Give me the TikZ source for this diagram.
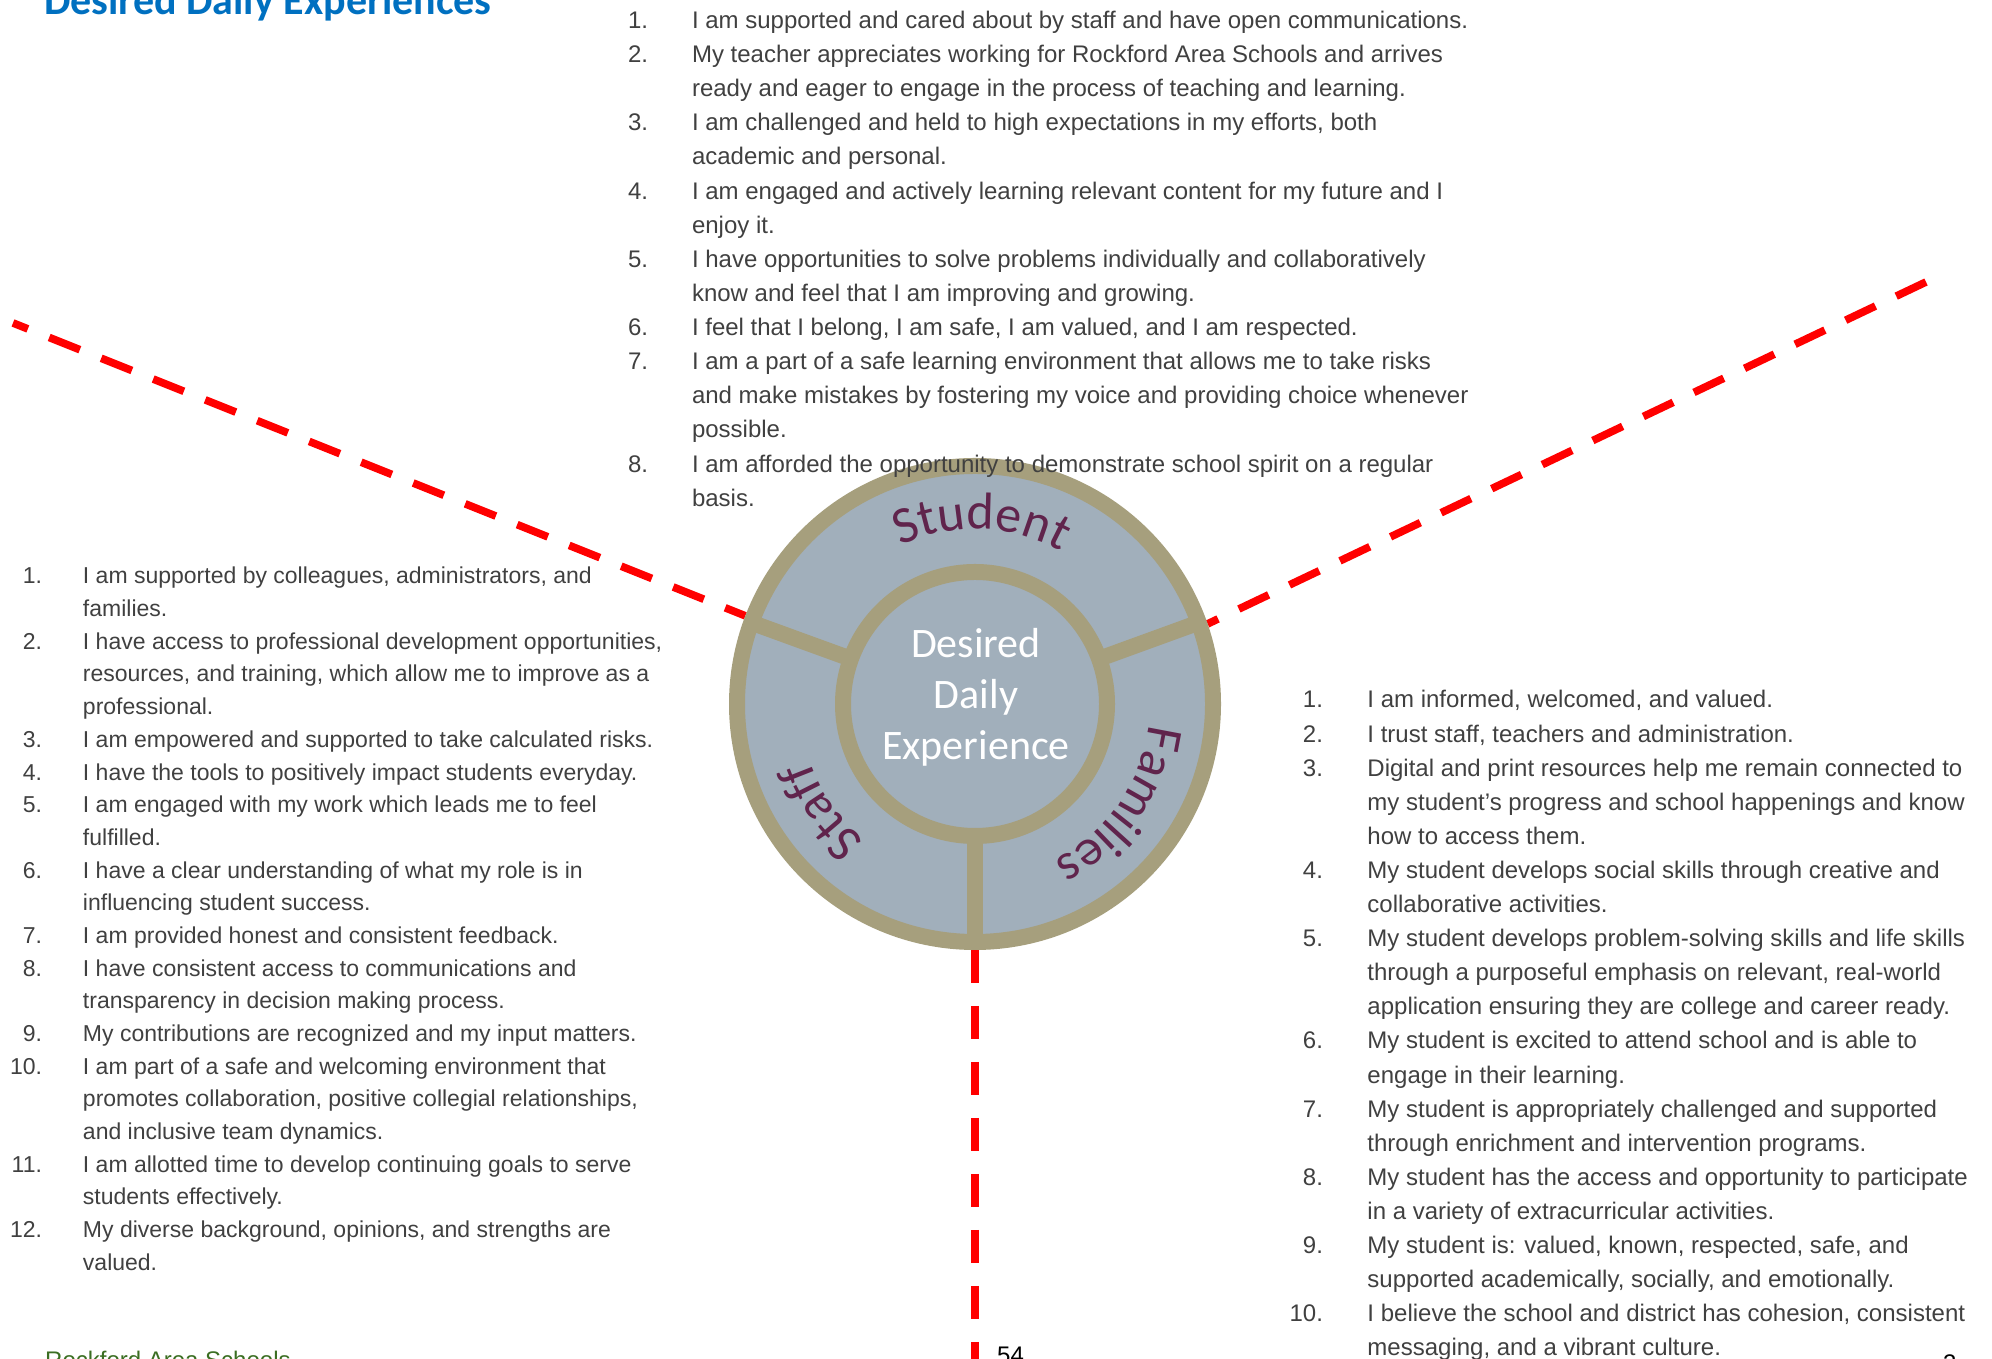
\documentclass[tikz,border=0pt]{standalone}
\usepackage{fontspec}
\usetikzlibrary{decorations.text,calc}
\newfontfamily\arialf{Liberation Sans}
\newfontfamily\calibf{Carlito}
\definecolor{discc}{RGB}{161,175,187}
\definecolor{ringc}{RGB}{166,159,125}
\definecolor{txtc}{RGB}{64,64,64}
\definecolor{labc}{RGB}{96,36,76}
\definecolor{titlec}{RGB}{0,112,192}
\definecolor{footc}{RGB}{59,110,34}
\pgfdeclarelayer{bg}
\pgfsetlayers{bg,main}
\tikzset{
  redline/.style={draw=red, line width=7.7pt, dash pattern=on 33pt off 23pt},
  ringline/.style={draw=ringc, line width=16pt},
  listtext/.style={anchor=base west, inner sep=0pt, outer sep=0pt, text=txtc, font=\arialf},
  arclabel/.style={decorate, decoration={text along path, text align=center,
      text={|\calibf\fontsize{52}{60}\selectfont\color{labc}|#1}}},
}
\begin{document}
\begin{tikzpicture}[x=1pt,y=1pt]
\useasboundingbox (0,0) rectangle (1992,1359);

% wheel
\node[circle, draw=ringc, fill=discc, line width=16pt, minimum size=476pt,
      inner sep=0pt, outer sep=8pt] (hub) at (975,655) {};
\node[circle, draw=ringc, line width=16pt, minimum size=264pt,
      inner sep=0pt, outer sep=8pt] (core) at (975,655) {};
\draw[ringline] ($(hub.center)+(20:132pt)$) -- ($(hub.center)+(20:238pt)$);
\draw[ringline] ($(hub.center)+(160:132pt)$) -- ($(hub.center)+(160:238pt)$);
\draw[ringline] ($(hub.center)+(270:132pt)$) -- ($(hub.center)+(270:238pt)$);

% red dashed separators
\coordinate (endL) at (13,1036);
\coordinate (endR) at (1926,1077);
\coordinate (endB) at (975,-5);
\begin{pgfonlayer}{bg}
\draw[redline, dash phase=17pt] (endL) -- (hub.159);
\draw[redline] (endR) -- (hub.19);
\draw[redline] (hub.270) -- (endB);
\end{pgfonlayer}

% centre text
\node[anchor=base, inner sep=0pt, text=white, font=\calibf] (ddx) at (976,701)
  {\fontsize{42}{51}\selectfont\begin{tabular}[t]{@{}c@{}}Desired\\Daily\\Experience\end{tabular}};

% curved labels
\path[arclabel=Student] ($(hub.center)+(148:175pt)$) arc[start angle=148, end angle=28, radius=175pt];
\path[arclabel=Families] ($(hub.center)+(25:175pt)$) arc[start angle=25, end angle=-95, radius=175pt];
\path[arclabel=Staff] ($(hub.center)+(275:175pt)$) arc[start angle=275, end angle=155, radius=175pt];

% title
\node[anchor=base west, inner sep=0pt, text=titlec, font=\calibf\bfseries] (title) at (44,1344)
  {\fontsize{42}{50}\selectfont Desired Daily Experiences};

% student list (top)
\node[listtext] (toplist) at (628,1330.5) {\fontsize{24}{34.12}\selectfont
\begin{tabular}[t]{@{}r@{\hspace{44pt}}l@{}}
1. & I am supported and cared about by staff and have open communications.\\
2. & My teacher appreciates working for Rockford Area Schools and arrives\\
   & ready and eager to engage in the process of teaching and learning.\\
3. & I am challenged and held to high expectations in my efforts, both\\
   & academic and personal.\\
4. & I am engaged and actively learning relevant content for my future and I\\
   & enjoy it.\\
5. & I have opportunities to solve problems individually and collaboratively\\
   & know and feel that I am improving and growing.\\
6. & I feel that I belong, I am safe, I am valued, and I am respected.\\
7. & I am a part of a safe learning environment that allows me to take risks\\
   & and make mistakes by fostering my voice and providing choice whenever\\
   & possible.\\
8. & I am afforded the opportunity to demonstrate school spirit on a regular\\
   & basis.
\end{tabular}};

% staff list (left)
\node[listtext] (leftlist) at (10,775) {\fontsize{23}{32.67}\selectfont
\begin{tabular}[t]{@{}r@{\hspace{41pt}}l@{}}
1. & I am supported by colleagues, administrators, and\\
   & families.\\
2. & I have access to professional development opportunities,\\
   & resources, and training, which allow me to improve as a\\
   & professional.\\
3. & I am empowered and supported to take calculated risks.\\
4. & I have the tools to positively impact students everyday.\\
5. & I am engaged with my work which leads me to feel\\
   & fulfilled.\\
6. & I have a clear understanding of what my role is in\\
   & influencing student success.\\
7. & I am provided honest and consistent feedback.\\
8. & I have consistent access to communications and\\
   & transparency in decision making process.\\
9. & My contributions are recognized and my input matters.\\
10. & I am part of a safe and welcoming environment that\\
   & promotes collaboration, positive collegial relationships,\\
   & and inclusive team dynamics.\\
11. & I am allotted time to develop continuing goals to serve\\
   & students effectively.\\
12. & My diverse background, opinions, and strengths are\\
   & valued.
\end{tabular}};

% families list (right)
\node[listtext] (rightlist) at (1289.6,651) {\fontsize{24}{34.1}\selectfont
\begin{tabular}[t]{@{}r@{\hspace{44.5pt}}l@{}}
1. & I am informed, welcomed, and valued.\\
2. & I trust staff, teachers and administration.\\
3. & Digital and print resources help me remain connected to\\
   & my student’s progress and school happenings and know\\
   & how to access them.\\
4. & My student develops social skills through creative and\\
   & collaborative activities.\\
5. & My student develops problem-solving skills and life skills\\
   & through a purposeful emphasis on relevant, real-world\\
   & application ensuring they are college and career ready.\\
6. & My student is excited to attend school and is able to\\
   & engage in their learning.\\
7. & My student is appropriately challenged and supported\\
   & through enrichment and intervention programs.\\
8. & My student has the access and opportunity to participate\\
   & in a variety of extracurricular activities.\\
9. & My student is: valued, known, respected, safe, and\\
   & supported academically, socially, and emotionally.\\
10. & I believe the school and district has cohesion, consistent\\
   & messaging, and a vibrant culture.
\end{tabular}};

% footers (cut by the page edge)
\node[anchor=base west, inner sep=0pt, text=footc, font=\arialf\fontsize{24}{28}\selectfont] (foot) at (45,-10) {Rockford Area Schools};
\node[anchor=base west, inner sep=0pt, text=black, font=\arialf\fontsize{24}{28}\selectfont] (pgA) at (997,-5) {54};
\node[anchor=base west, inner sep=0pt, text=black, font=\arialf\fontsize{24}{28}\selectfont] (pgB) at (1943,-13) {3};
\end{tikzpicture}
\end{document}
